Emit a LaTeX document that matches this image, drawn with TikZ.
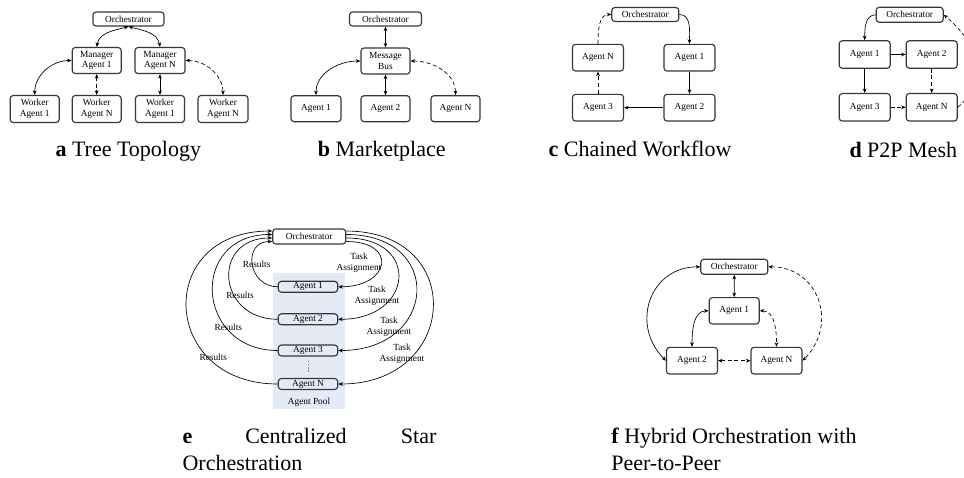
\documentclass[tikz,border=0pt]{standalone}
\usepackage{fontspec}
\setmainfont{Liberation Serif}
\usetikzlibrary{arrows.meta}

\definecolor{poolblue}{RGB}{229,235,246}
\definecolor{edgegray}{RGB}{55,55,55}

\newcommand{\dfont}{\fontsize{7}{8}\selectfont}
\newcommand{\cfont}{\fontsize{16.5}{20}\selectfont}

\begin{document}
\begin{tikzpicture}[x=0.75pt,y=0.75pt,
  >={Stealth[length=3.4pt,width=2.8pt]},
  box/.style={draw=edgegray, line width=0.85pt, rounded corners=2.3pt, fill=white,
              align=center, inner sep=0pt, font=\dfont},
  poolbox/.style={box, fill=poolblue},
  sz/.style 2 args={minimum width=#1*0.75pt, minimum height=#2*0.75pt},
  link/.style={line width=0.5pt, black},
  dlink/.style={link, dash pattern=on 3pt off 2pt},
  lbl/.style={font=\dfont, align=center, inner sep=0pt},
  captext/.style={font=\cfont, inner sep=0pt, anchor=base},
]

\clip (0,0) rectangle (964,-478);
\fill[white] (0,0) rectangle (964,-478);

% ---------------- (a) tree topology ----------------
\node[box,sz={71}{14}] (ao)  at (128.5,-19)  {Orchestrator};
\node[box,sz={49}{26}] (am1) at (96.7,-60.5) {Manager\\Agent 1};
\node[box,sz={50}{26}] (amn) at (160,-60.5)  {Manager\\Agent N};
\node[box,sz={49}{27}] (aw1) at (34.7,-109)  {Worker\\Agent 1};
\node[box,sz={49}{27}] (aw2) at (96.7,-109)  {Worker\\Agent N};
\node[box,sz={49}{27}] (aw3) at (160,-109)   {Worker\\Agent 1};
\node[box,sz={50}{27}] (aw4) at (223,-109)   {Worker\\Agent N};

\draw[link,<->] (ao.south) to[out=195,in=80] (am1.north);
\draw[link,<->] (ao.south) to[out=-15,in=100] (amn.north);
\draw[link,<->] (am1.west) to[out=180,in=90] (aw1.north);
\draw[dlink,<->] (am1.south) -- (aw2.north);
\draw[link,<->] (amn.south) -- (aw3.north);
\draw[dlink,<->] (amn.east) to[out=0,in=90] (aw4.north);

\node[captext] (capa) at (128.3,-156.7) {\textbf{a} Tree Topology};

% ---------------- (b) marketplace ----------------
\node[box,sz={72}{14}] (bo) at (385.5,-19)    {Orchestrator};
\node[box,sz={49}{26}] (bb) at (385.5,-61)    {Message\\Bus};
\node[box,sz={50}{26}] (b1) at (316,-108.7)   {Agent 1};
\node[box,sz={49}{26}] (b2) at (385.5,-108.7) {Agent 2};
\node[box,sz={49}{26}] (bn) at (455.5,-108.7) {Agent N};

\draw[link,<->] (bo.south) -- (bb.north);
\draw[link,<->] (bb.west) to[out=180,in=90] (b1.north);
\draw[link,<->] (bb.south) -- (b2.north);
\draw[dlink,<->] (bb.east) to[out=0,in=90] (bn.north);

\node[captext] (capb) at (381.7,-156.7) {\textbf{b} Marketplace};

% ---------------- (c) chained workflow ----------------
\node[box,sz={67}{14}]   (co) at (645.3,-14.5) {Orchestrator};
\node[box,sz={51}{26.7}] (cn) at (598,-57.7)   {Agent N};
\node[box,sz={51}{26.7}] (c1) at (689.5,-57.7) {Agent 1};
\node[box,sz={51}{26.7}] (c3) at (598,-107.7)  {Agent 3};
\node[box,sz={51}{26.7}] (c2) at (689.5,-107.7) {Agent 2};

\draw[link,->] (co.east) to[out=0,in=90] (c1.north);
\draw[link,->] (c1.south) -- (c2.north);
\draw[link,->] (c2.west) -- (c3.east);
\draw[dlink,->] (c3.north) -- (cn.south);
\draw[dlink,->] (cn.north) to[out=90,in=180] (co.west);

\node[captext] (capc) at (640,-156.7) {\textbf{c} Chained Workflow};

% ---------------- (d) peer-to-peer mesh ----------------
\node[box,sz={67}{15}]   (do) at (909.7,-14.8)  {Orchestrator};
\node[box,sz={51}{27.5}] (d1) at (864.7,-54.5)  {Agent 1};
\node[box,sz={51}{27.5}] (d2) at (931.7,-54.5)  {Agent 2};
\node[box,sz={51}{27.5}] (d3) at (864.7,-107.3) {Agent 3};
\node[box,sz={51}{27.5}] (dn) at (931.7,-107.3) {Agent N};

\draw[link,->] (do.west) to[out=180,in=90] (d1.north);
\draw[link,->] (d1.east) -- (d2.west);
\draw[link,->] (d1.south) -- (d3.north);
\draw[dlink,->] (d2.south) -- (dn.north);
\draw[dlink,->] (d3.east) -- (dn.west);
\draw[dlink,->] (dn.east) to[out=40,in=-40,looseness=1.2] (do.east);

\node[captext] (capd) at (903.3,-157) {\textbf{d} P2P Mesh};

% ---------------- (e) centralized star ----------------
\fill[poolblue] (273,-273) rectangle (345,-409);
\node[box,sz={73}{15}]   (eo) at (309.2,-236.5) {Orchestrator};
\node[poolbox,sz={59.4}{11}] (e1) at (308,-286.8) {Agent 1};
\node[poolbox,sz={59.4}{11}] (e2) at (308,-319.3) {Agent 2};
\node[poolbox,sz={59.4}{11}] (e3) at (308,-350.5) {Agent 3};
\node[poolbox,sz={59.4}{11}] (en) at (308,-384)   {Agent N};
\node[lbl] (epool) at (309,-402) {Agent Pool};
\draw[black!50, line width=0.6pt, dash pattern=on 1.2pt off 1.2pt]
  ([yshift=-3pt]e3.south) -- ([yshift=4.5pt]en.north);

% results flowing back to the orchestrator
\draw[link,->] (e1.west) .. controls +(-30,0)  and +(-30,0)  .. ([yshift=-3.75pt]eo.west);
\draw[link,->] (e2.west) .. controls +(-61,0)  and +(-61,0)  .. ([yshift=-1.1pt]eo.west);
\draw[link,->] (e3.west) .. controls +(-83,0)  and +(-83,0)  .. ([yshift=1.5pt]eo.west);
\draw[link,->] (en.west) .. controls +(-118,0) and +(-118,0) .. ([yshift=4.1pt]eo.west);

% task assignments sent out
\draw[link,->] ([yshift=-3.75pt]eo.east) .. controls +(52,0)  and +(52,0)  .. (e1.east);
\draw[link,->] ([yshift=-1.1pt]eo.east)  .. controls +(75,0)  and +(75,0)  .. (e2.east);
\draw[link,->] ([yshift=1.5pt]eo.east)   .. controls +(99,0)  and +(99,0)  .. (e3.east);
\draw[link,->] ([yshift=4.1pt]eo.east)   .. controls +(121,0) and +(121,0) .. (en.east);

\node[lbl] (r1) at (256.7,-264.7) {Results};
\node[lbl] (r2) at (240,-295.5)   {Results};
\node[lbl] (r3) at (228.3,-327)   {Results};
\node[lbl] (r4) at (213.3,-357)   {Results};

\node[lbl] (t1) at (359,-263)   {Task\\Assignment};
\node[lbl] (t2) at (377,-296)   {Task\\Assignment};
\node[lbl] (t3) at (389,-326.5) {Task\\Assignment};
\node[lbl] (t4) at (402,-354)   {Task\\Assignment};

\node[captext,anchor=base west] (cape1) at (182.3,-443.3) {\textbf{e}};
\node[captext,anchor=base west] (cape2) at (245,-443.3) {Centralized};
\node[captext,anchor=base east] (cape3) at (436.7,-443.3) {Star};
\node[captext,anchor=base west] (cape4) at (182.3,-470) {Orchestration};

% ---------------- (f) hybrid orchestration ----------------
\node[box,sz={67}{15}]   (fo) at (734.3,-266.8) {Orchestrator};
\node[box,sz={50}{26.3}] (f1) at (734.2,-310.8) {Agent 1};
\node[box,sz={51}{26.7}] (f2) at (692,-360.7)   {Agent 2};
\node[box,sz={51}{26.7}] (fn) at (776.5,-360.7) {Agent N};

\draw[link,<->] (fo.south) -- (f1.north);
\draw[link,<->] (fo.west) to[out=180,in=135,looseness=1.3] (f2.west);
\draw[link,<->] (f1.west) to[out=180,in=90] (f2.north);
\draw[dlink,<->] (f1.east) to[out=0,in=90] (fn.north);
\draw[dlink,<->] (f2.east) -- (fn.west);
\draw[dlink,<->] (fo.east) to[out=0,in=45,looseness=1.3] (fn.east);

\node[captext,anchor=base west] (capf1) at (611,-443.3) {\textbf{f} Hybrid Orchestration with};
\node[captext,anchor=base west] (capf2) at (611,-470) {Peer-to-Peer};

\end{tikzpicture}
\end{document}
